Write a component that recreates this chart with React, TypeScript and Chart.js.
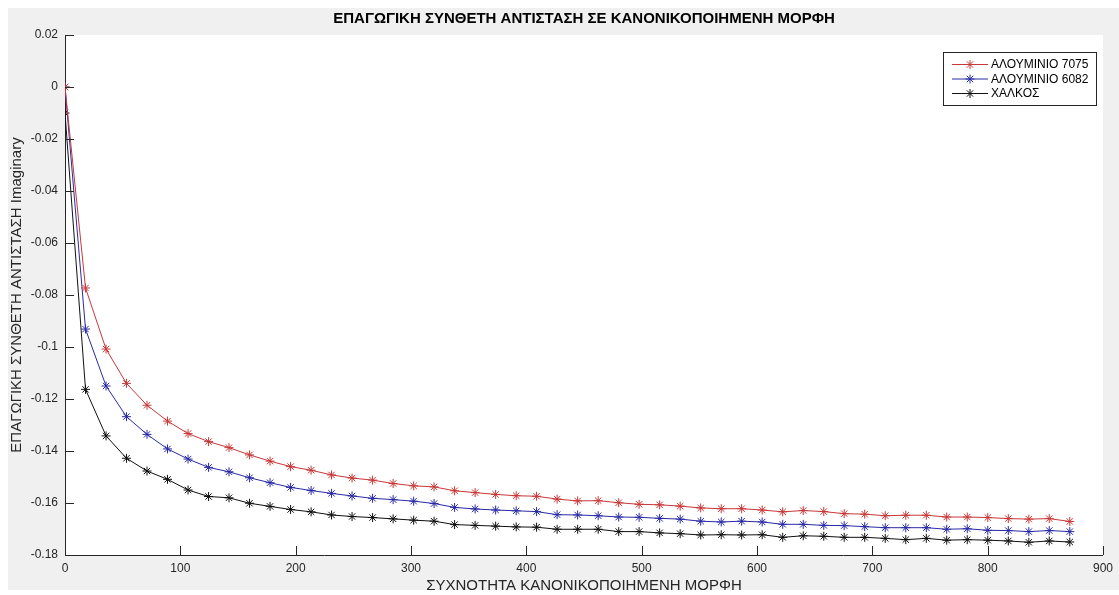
import React, { useEffect, useRef } from "react";
import { Chart, registerables } from "chart.js";

Chart.register(...registerables);

// Normalised frequency (x) shared by all three materials
const frequency = [
  0, 17.8, 35.6, 53.3, 71.1, 88.9, 106.7, 124.5, 142.2, 160.0,
  177.8, 195.6, 213.4, 231.1, 248.9, 266.7, 284.5, 302.3, 320.0, 337.8,
  355.6, 373.4, 391.2, 408.9, 426.7, 444.5, 462.3, 480.1, 497.8, 515.6,
  533.4, 551.2, 569.0, 586.7, 604.5, 622.3, 640.1, 657.9, 675.6, 693.4,
  711.2, 729.0, 746.8, 764.5, 782.3, 800.1, 817.9, 835.7, 853.4, 871.2,
];

// Imaginary part of the normalised inductive impedance
const aluminium7075 = [
  0, -0.0773, -0.1008, -0.114, -0.1224, -0.1285, -0.1333, -0.1364, -0.1387, -0.1415,
  -0.1439, -0.146, -0.1474, -0.1492, -0.1504, -0.1512, -0.1525, -0.1534, -0.1538, -0.1553,
  -0.156, -0.1567, -0.1572, -0.1574, -0.1585, -0.1592, -0.1591, -0.1599, -0.1605, -0.1607,
  -0.1612, -0.1619, -0.1622, -0.1622, -0.1627, -0.1634, -0.1629, -0.1633, -0.1641, -0.1643,
  -0.1649, -0.1647, -0.1647, -0.1654, -0.1654, -0.1656, -0.166, -0.1662, -0.166, -0.1671,
];

const aluminium6082 = [
  0, -0.0931, -0.115, -0.1268, -0.1336, -0.1392, -0.1431, -0.1463, -0.148, -0.1503,
  -0.1522, -0.154, -0.1552, -0.1563, -0.1573, -0.1582, -0.1587, -0.1593, -0.1602, -0.1617,
  -0.1623, -0.1627, -0.163, -0.1633, -0.1645, -0.1646, -0.1649, -0.1654, -0.1655, -0.1659,
  -0.1662, -0.167, -0.1673, -0.167, -0.1673, -0.1682, -0.1682, -0.1686, -0.1687, -0.1691,
  -0.1695, -0.1695, -0.1695, -0.1701, -0.1699, -0.1705, -0.1706, -0.171, -0.1706, -0.171,
];

const copper = [
  -0.01, -0.1163, -0.1342, -0.1428, -0.1477, -0.1509, -0.155, -0.1575, -0.158, -0.1601,
  -0.1613, -0.1625, -0.1634, -0.1646, -0.1652, -0.1656, -0.1661, -0.1666, -0.167, -0.1683,
  -0.1686, -0.1689, -0.1692, -0.1693, -0.1701, -0.1701, -0.1701, -0.171, -0.171, -0.1715,
  -0.1718, -0.1723, -0.1722, -0.1723, -0.1722, -0.1732, -0.1726, -0.1728, -0.1732, -0.1732,
  -0.1736, -0.1741, -0.1736, -0.1743, -0.1741, -0.1743, -0.1746, -0.1751, -0.1746, -0.175,
];

const seriesLabels = ["ΑΛΟΥΜΙΝΙΟ 7075", "ΑΛΟΥΜΙΝΙΟ 6082", "ΧΑΛΚΟΣ"];
const seriesColors = ["#c83838", "#2a2aa6", "#111111"];

const chartTitle = "ΕΠΑΓΩΓΙΚΗ ΣΥΝΘΕΤΗ ΑΝΤΙΣΤΑΣΗ ΣΕ ΚΑΝΟΝΙΚΟΠΟΙΗΜΕΝΗ ΜΟΡΦΗ";
const xAxisTitle = "ΣΥΧΝΟΤΗΤΑ ΚΑΝΟΝΙΚΟΠΟΙΗΜΕΝΗ ΜΟΡΦΗ";
const yAxisTitle = "ΕΠΑΓΩΓΙΚΗ ΣΥΝΘΕΤΗ ΑΝΤΙΣΤΑΣΗ Imaginary";

const FONT = "'Liberation Sans', Arial, Helvetica, sans-serif";
const AXIS_COLOR = "#262626";
const FIGURE_GREY = "#f0f0f0";

// Grey figure background with a white axes area
const backgroundPlugin = {
  id: "figureBackground",
  beforeDraw(chart: any) {
    const { ctx, width, height, chartArea } = chart;
    ctx.save();
    ctx.fillStyle = "#ffffff";
    ctx.fillRect(0, 0, width, height);
    ctx.fillStyle = FIGURE_GREY;
    ctx.fillRect(8, 8, width - 8, height - 13);
    ctx.fillStyle = "#ffffff";
    ctx.fillRect(chartArea.left, chartArea.top, chartArea.right - chartArea.left, chartArea.bottom - chartArea.top);
    ctx.restore();
  },
};

// Inward-pointing tick marks on the left and bottom axes
const innerTicksPlugin = {
  id: "innerTicks",
  afterDraw(chart: any) {
    const { ctx, chartArea, scales } = chart;
    const len = 9;
    ctx.save();
    ctx.strokeStyle = AXIS_COLOR;
    ctx.lineWidth = 1;
    ctx.beginPath();
    for (const t of scales.x.ticks) {
      const px = Math.round(scales.x.getPixelForValue(t.value)) + 0.5;
      ctx.moveTo(px, chartArea.bottom);
      ctx.lineTo(px, chartArea.bottom - len);
    }
    for (const t of scales.y.ticks) {
      const py = Math.round(scales.y.getPixelForValue(t.value)) + 0.5;
      ctx.moveTo(chartArea.left, py);
      ctx.lineTo(chartArea.left + len, py);
    }
    ctx.stroke();
    ctx.restore();
  },
};

// Boxed legend in the upper right, each entry a short line with a star marker
const boxLegendPlugin = {
  id: "boxLegend",
  afterDraw(chart: any) {
    const { ctx } = chart;
    const x0 = 943;
    const y0 = 52;
    const w = 153;
    const rowH = 14.5;
    const h = 53;
    ctx.save();
    ctx.fillStyle = "#ffffff";
    ctx.fillRect(x0, y0, w, h);
    ctx.strokeStyle = AXIS_COLOR;
    ctx.lineWidth = 1;
    ctx.strokeRect(x0 + 0.5, y0 + 0.5, w, h);
    ctx.font = `12px ${FONT}`;
    ctx.textBaseline = "middle";
    ctx.textAlign = "left";
    chart.data.datasets.forEach((ds: any, i: number) => {
      const cy = y0 + 12.5 + i * rowH;
      ctx.strokeStyle = ds.borderColor;
      ctx.lineWidth = 1;
      ctx.beginPath();
      ctx.moveTo(952, cy);
      ctx.lineTo(988, cy);
      ctx.stroke();
      const r = 4.5;
      ctx.beginPath();
      for (let k = 0; k < 4; k++) {
        const a = (k * Math.PI) / 4;
        ctx.moveTo(970 - r * Math.cos(a), cy - r * Math.sin(a));
        ctx.lineTo(970 + r * Math.cos(a), cy + r * Math.sin(a));
      }
      ctx.stroke();
      ctx.fillStyle = "#000000";
      ctx.fillText(ds.label, 991, cy + 0.5);
    });
    ctx.restore();
  },
};

function makeDataset(label: string, values: number[], color: string) {
  return {
    label,
    data: frequency.map((f, i) => ({ x: f, y: values[i] })),
    borderColor: color,
    backgroundColor: color,
    borderWidth: 1,
    pointStyle: "star",
    pointRadius: 4.5,
    pointBorderWidth: 1,
    pointBorderColor: color,
    tension: 0,
  };
}

export default function App() {
  const canvasRef = useRef<HTMLCanvasElement | null>(null);

  useEffect(() => {
    if (!canvasRef.current) return;
    const chart = new Chart(canvasRef.current, {
      type: "line",
      data: {
        datasets: [
          makeDataset(seriesLabels[0], aluminium7075, seriesColors[0]),
          makeDataset(seriesLabels[1], aluminium6082, seriesColors[1]),
          makeDataset(seriesLabels[2], copper, seriesColors[2]),
        ],
      },
      options: {
        animation: false,
        responsive: false,
        devicePixelRatio: 1,
        layout: { padding: { left: 8, right: 16, top: 0, bottom: 0 } },
        plugins: {
          legend: { display: false },
          tooltip: { enabled: false },
          title: {
            display: true,
            fullSize: false,
            text: chartTitle,
            color: "#000000",
            font: { family: FONT, size: 15, weight: "bold", lineHeight: 1.2 },
            padding: { top: 10, bottom: 7 },
          },
        },
        scales: {
          x: {
            type: "linear",
            min: 0,
            max: 900,
            afterFit(scale: any) {
              scale.height = 40;
            },
            border: { display: true, color: AXIS_COLOR, width: 1 },
            grid: { display: true, drawOnChartArea: false, drawTicks: false },
            ticks: {
              stepSize: 100,
              color: AXIS_COLOR,
              padding: 6,
              maxRotation: 0,
              font: { family: FONT, size: 12 },
            },
            title: {
              display: true,
              text: xAxisTitle,
              color: AXIS_COLOR,
              font: { family: FONT, size: 15, lineHeight: 1.2 },
              padding: { top: 0, bottom: 0 },
            },
          },
          y: {
            type: "linear",
            min: -0.18,
            max: 0.02,
            afterFit(scale: any) {
              scale.width = 57;
            },
            border: { display: true, color: AXIS_COLOR, width: 1 },
            grid: { display: true, drawOnChartArea: false, drawTicks: false },
            ticks: {
              stepSize: 0.02,
              color: AXIS_COLOR,
              padding: 7,
              font: { family: FONT, size: 12 },
              callback: (v: any) => String(Number(Number(v).toFixed(2))),
            },
            title: {
              display: true,
              text: yAxisTitle,
              color: AXIS_COLOR,
              font: { family: FONT, size: 15, lineHeight: 1.2 },
              padding: { top: 0, bottom: 0 },
            },
          },
        },
      },
      plugins: [backgroundPlugin, innerTicksPlugin, boxLegendPlugin],
    } as any);
    return () => chart.destroy();
  }, []);

  return (
    <div style={{ position: "fixed", left: 0, top: 0, width: 1119, height: 595 }}>
      <canvas ref={canvasRef} width={1119} height={595} style={{ display: "block" }} />
    </div>
  );
}
